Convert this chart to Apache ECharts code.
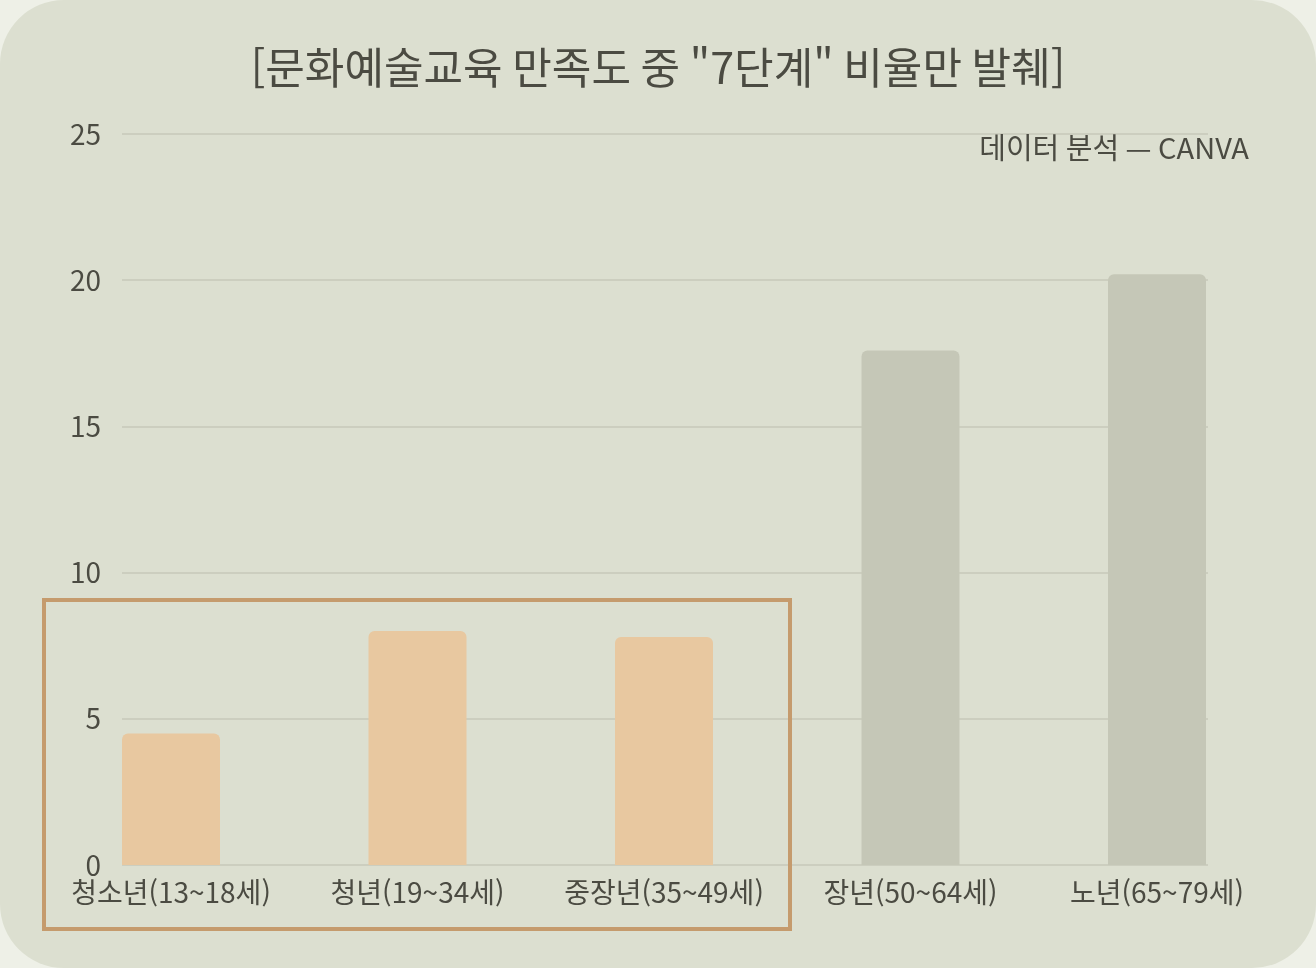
<!DOCTYPE html>
<html lang="ko" style="height: 100%">
<head>
  <meta charset="utf-8">
</head>
<body style="height: 100%; margin: 0; background: #eef0e7;">
  <div id="container" style="height: 100%; background: #dcdfd0; border-radius: 64px;"></div>

  <script type="text/javascript" src="https://cdn.jsdelivr.net/npm/echarts@6/dist/echarts.min.js"></script>
  <script type="text/javascript">
    // 데이터
    var categories = ['청소년(13~18세)', '청년(19~34세)', '중장년(35~49세)', '장년(50~64세)', '노년(65~79세)'];
    var values = [4.5, 8.0, 7.8, 17.6, 20.2];
    var highlighted = [true, true, true, false, false];
    var yTicks = [0, 5, 10, 15, 20, 25];

    var textColor = '#4b4b42';
    var fontFamily = '"Noto Sans CJK KR", "Noto Sans", sans-serif';

    var dom = document.getElementById('container');
    var myChart = echarts.init(dom, null, { renderer: 'canvas' });

    var barData = values.map(function (v, i) {
      return {
        value: v,
        itemStyle: { color: highlighted[i] ? '#e8c8a0' : '#c5c7b7' }
      };
    });

    var option = {
      backgroundColor: 'transparent',
      textStyle: { fontFamily: fontFamily },
      title: [
        {
          text: '[문화예술교육 만족도 중 "7단계" 비율만 발췌]',
          left: 'center',
          top: 41,
          textStyle: { fontSize: 43, fontWeight: 'normal', color: textColor, fontFamily: fontFamily }
        },
        {
          text: '데이터 분석 — CANVA',
          right: 62,
          top: 128,
          textStyle: { fontSize: 29, fontWeight: 'normal', color: textColor, fontFamily: fontFamily }
        }
      ],
      grid: [
        // gridlines + y labels
        { left: 122, right: 108, top: 134, bottom: 103 },
        // bars
        { left: 47.75, right: 35.75, top: 134, bottom: 103 }
      ],
      xAxis: [
        { gridIndex: 0, type: 'value', min: 0, max: 1, show: false },
        {
          gridIndex: 1,
          type: 'category',
          data: categories,
          axisLine: { show: false },
          axisTick: { show: false },
          axisLabel: { fontSize: 28, color: textColor, margin: 13, interval: 0 }
        }
      ],
      yAxis: [
        {
          gridIndex: 0,
          type: 'value',
          min: yTicks[0],
          max: yTicks[yTicks.length - 1],
          interval: 5,
          axisLine: { show: false },
          axisTick: { show: false },
          axisLabel: { fontSize: 28, color: textColor, margin: 21 },
          splitLine: { lineStyle: { color: '#c7c9ba', width: 1.5 } }
        },
        {
          gridIndex: 1,
          type: 'value',
          min: yTicks[0],
          max: yTicks[yTicks.length - 1],
          show: false,
          splitLine: { show: false }
        }
      ],
      series: [
        {
          type: 'bar',
          xAxisIndex: 1,
          yAxisIndex: 1,
          barWidth: 98,
          data: barData,
          itemStyle: { borderRadius: [6, 6, 0, 0] }
        }
      ],
      graphic: [
        {
          type: 'rect',
          shape: { x: 44, y: 600, width: 746, height: 329 },
          style: { fill: 'none', stroke: '#c59b6d', lineWidth: 4 },
          z: 10
        }
      ]
    };

    myChart.setOption(option);
    window.addEventListener('resize', myChart.resize);
  </script>
</body>
</html>
